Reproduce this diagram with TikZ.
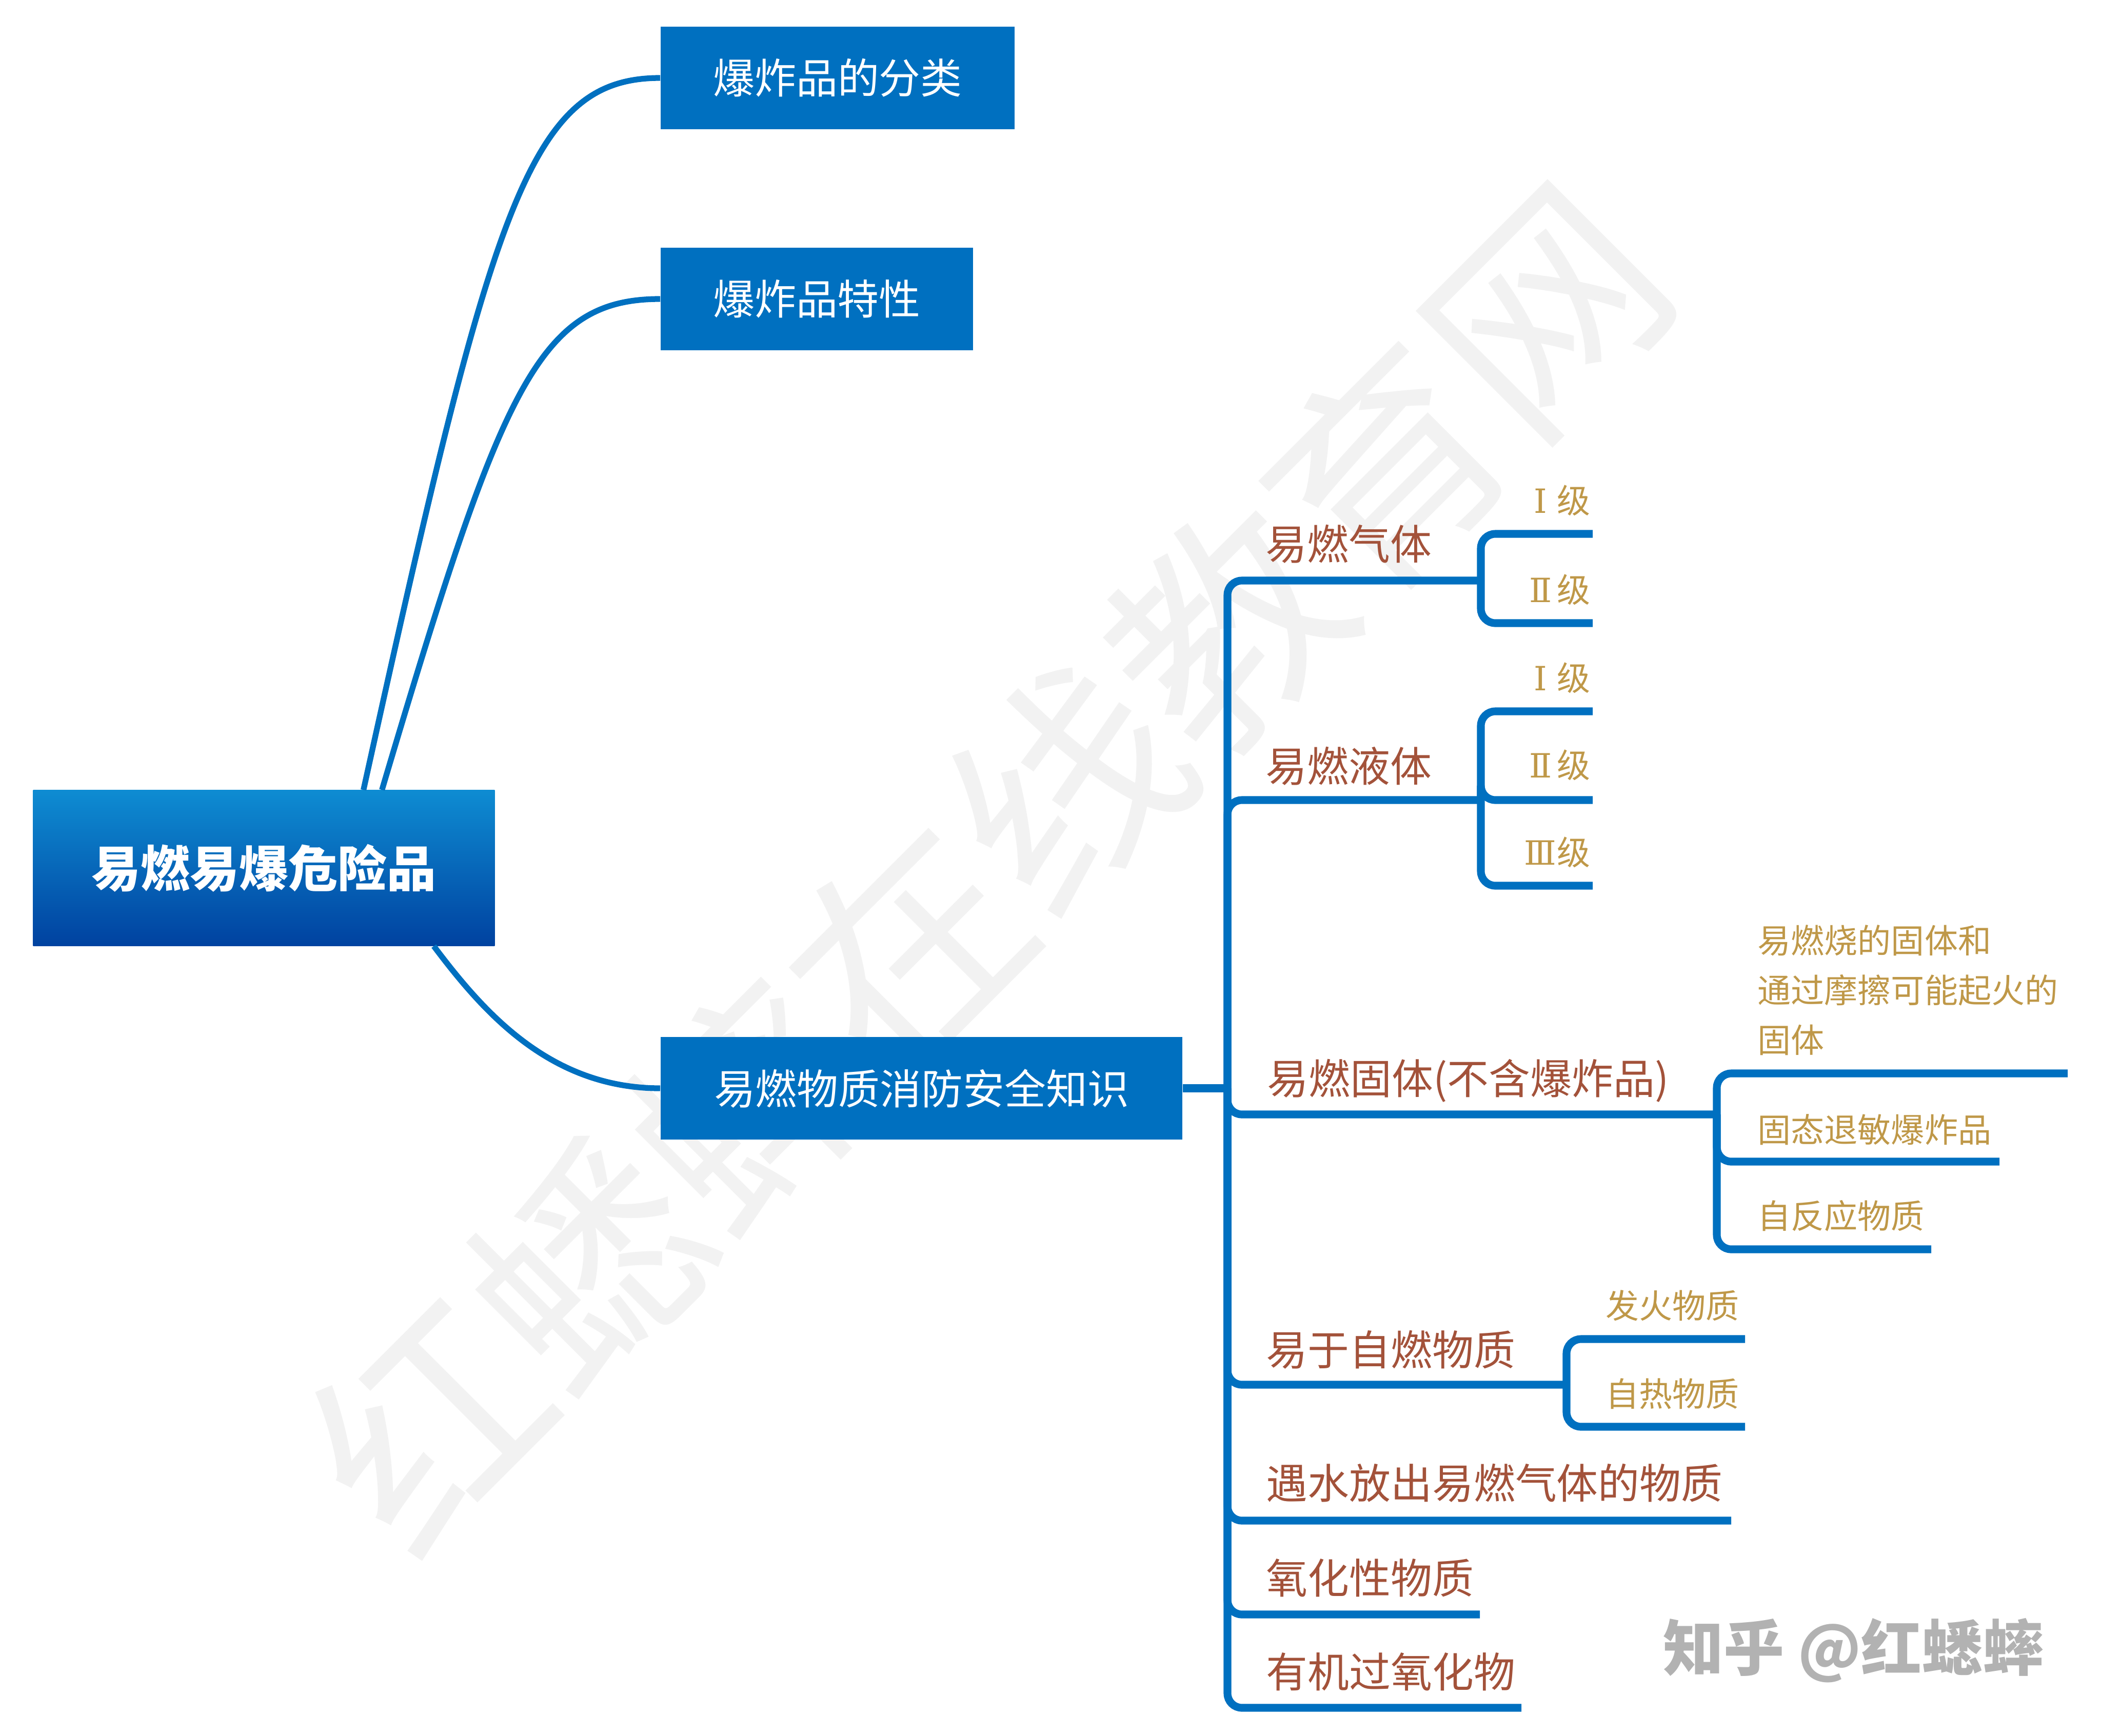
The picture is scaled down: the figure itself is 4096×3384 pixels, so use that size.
\documentclass[tikz,border=0pt]{standalone}
\usepackage{fontspec}
\newfontfamily\cjk{Noto Sans CJK SC}
\newfontfamily\numfont{DejaVu Serif}
\newcommand\grade[1]{\makebox[1em][c]{\numfont #1}级}
\definecolor{xblue}{RGB}{0,112,192}
\definecolor{rootlight}{RGB}{14,140,210}
\definecolor{rootdark}{RGB}{0,66,160}
\definecolor{branchred}{RGB}{163,82,58}
\definecolor{leafgold}{RGB}{191,152,72}
\begin{document}
\begin{tikzpicture}[x=0.01cm,y=-0.01cm,every node/.style={inner sep=0pt},
  topic/.style={fill=xblue,text=white,minimum height=2cm,font=\cjk\fontsize{23}{28}\selectfont},
  branch/.style={anchor=west,text=branchred,font=\cjk\fontsize{23}{28}\selectfont},
  leaf/.style={anchor=west,align=left,text=leafgold,font=\cjk\fontsize{18.5}{27.6}\selectfont},
  link/.style={xblue,line width=3.2pt},
  tree/.style={xblue,line width=4.3pt,rounded corners=8pt}]
\fill[white] (0,0) rectangle (4096,3384); \useasboundingbox (0,0) rectangle (4096,3384);
% watermarks
\node[rotate=45,text=black!5,font=\cjk\fontsize{125}{125}\selectfont] (mark) at (1924,1690) {红蟋蟀在线教育网};
\node[text=black!30,font=\cjk\bfseries\fontsize{33.6}{36}\selectfont] (zhihu) at (3613,3218) {知乎 @红蟋蟀};
% topics
\node[minimum width=8.99cm,minimum height=3.03cm,top color=rootlight,bottom color=rootdark,text=white,font=\cjk\bfseries\fontsize{27.3}{30}\selectfont] (root) at (514.5,1692.5) {易燃易爆危险品};
\node[topic,minimum width=6.9cm] (cls) at (1633,152) {爆炸品的分类};
\node[topic,minimum width=6.09cm] (feat) at (1592.5,583) {爆炸品特性};
\node[topic,minimum width=10.17cm,minimum height=1.99cm] (know) at (1796.5,2122) {易燃物质消防安全知识};
\draw[link] ([xshift=1.94cm]root.north) .. controls (960,400) and (1030,152) .. (cls.west);
\draw[link] ([xshift=2.3cm]root.north) .. controls (978,755) and (1049,583) .. (feat.west);
\draw[link] ([xshift=3.31cm]root.south) .. controls (940,1970) and (1070,2122) .. (know.west);
% branches
\node[branch] (gas) at (2467,1061) {易燃气体};
\node[branch] (liq) at (2467,1494) {易燃液体};
\node[branch] (sol) at (2470,2107) {易燃固体(不含爆炸品)};
\node[branch] (self) at (2468,2632) {易于自燃物质};
\node[branch] (water) at (2468,2892) {遇水放出易燃气体的物质};
\node[branch] (oxid) at (2468,3077) {氧化性物质};
\node[branch] (org) at (2468,3260) {有机过氧化物};
% leaves
\node[leaf] (gas1) at (2970,976) {\grade{Ⅰ}}; \node[leaf] (gas2) at (2970,1150) {\grade{Ⅱ}};
\node[leaf] (liq1) at (2970,1322) {\grade{Ⅰ}}; \node[leaf] (liq2) at (2970,1492) {\grade{Ⅱ}}; \node[leaf] (liq3) at (2970,1662) {\grade{Ⅲ}};
\node[leaf] (sol1) at (3426,1931) {易燃烧的固体和\\通过摩擦可能起火的\\固体};
\node[leaf] (sol2) at (3426,2203) {固态退敏爆炸品}; \node[leaf] (sol3) at (3426,2371) {自反应物质};
\node[leaf] (self1) at (3130,2546) {发火物质}; \node[leaf] (self2) at (3130,2718) {自热物质};
% line ends
\coordinate (hub) at (2393,2122);
\coordinate (gas-j) at (2887,1132); \coordinate (liq-j) at (2887,1560); \coordinate (sol-j) at (3347,2173); \coordinate (self-j) at (3054,2700);
\coordinate (water-r) at (3375,2965); \coordinate (oxid-r) at (2885,3148); \coordinate (org-r) at (2966,3330);
\coordinate (gas-1) at (3105,1041); \coordinate (gas-2) at (3105,1215);
\coordinate (liq-1) at (3105,1387); \coordinate (liq-2) at (3105,1560); \coordinate (liq-3) at (3105,1727);
\coordinate (sol-1) at (4031,2093); \coordinate (sol-2) at (3898,2265); \coordinate (sol-3) at (3765,2436);
\coordinate (self-1) at (3402,2611); \coordinate (self-2) at (3402,2782);
\draw[tree] (know.east) -- (hub);
\foreach \a/\b in {hub/gas-j,hub/liq-j,hub/sol-j,hub/self-j,hub/water-r,hub/oxid-r,hub/org-r,gas-j/gas-1,gas-j/gas-2,liq-j/liq-1,liq-j/liq-2,liq-j/liq-3,sol-j/sol-1,sol-j/sol-2,sol-j/sol-3,self-j/self-1,self-j/self-2}
  \draw[tree] (\a) |- (\b);
\end{tikzpicture}
\end{document}
